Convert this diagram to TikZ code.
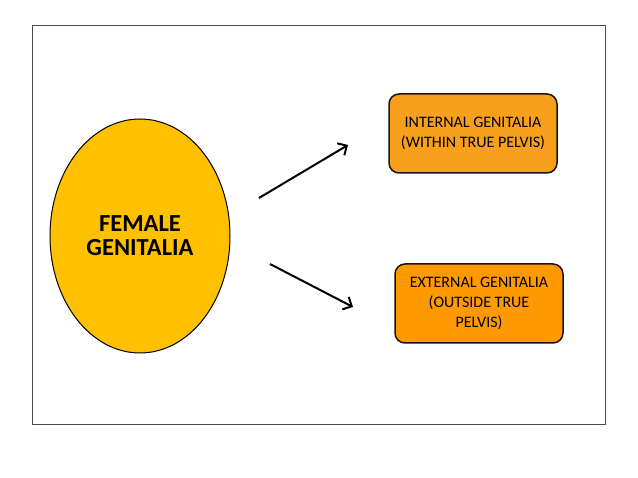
\documentclass[tikz,border=0pt]{standalone}
\usepackage{fontspec}
\setmainfont{Carlito}
\usetikzlibrary{shapes.geometric,arrows.meta}
\definecolor{ellfill}{RGB}{255,192,0}
\definecolor{boxa}{RGB}{248,160,28}
\definecolor{boxb}{RGB}{255,153,0}
\tikzset{
  x=1pt,y=-1pt,
  frame/.style={draw=black!70,line width=0.8pt},
  mainell/.style={ellipse,draw=black,line width=1pt,fill=ellfill,minimum width=180pt,minimum height=234pt,inner sep=0pt,align=center,font=\bfseries\fontsize{24.5}{24}\selectfont},
  catbox/.style={draw=black!85!brown,line width=1.5pt,rounded corners=10pt,minimum width=168pt,minimum height=79pt,align=center,font=\fontsize{16}{20}\selectfont,inner sep=2pt},
  conn/.style={line width=2pt,-{Straight Barb[length=7pt,width=14pt,line width=2pt]}}
}
\begin{document}
\begin{tikzpicture}
\useasboundingbox (0,0) rectangle (638,478);
\fill[white] (0,0) rectangle (638,478);
\draw[frame] (32,25) rectangle (605,424);
\node[mainell] (fem) at (140,236) {FEMALE\\GENITALIA};
\node[catbox,fill=boxa] (int) at (473,133.5) {INTERNAL GENITALIA\\(WITHIN TRUE PELVIS)};
\node[catbox,fill=boxb] (ext) at (479,303.5) {EXTERNAL GENITALIA\\(OUTSIDE TRUE\\PELVIS)};
\coordinate (a1s) at (259,198);
\coordinate (a1e) at (348,145);
\coordinate (a2s) at (270,264);
\coordinate (a2e) at (353,307);
\draw[conn] (a1s) -- (a1e);
\draw[conn] (a2s) -- (a2e);
\end{tikzpicture}
\end{document}
